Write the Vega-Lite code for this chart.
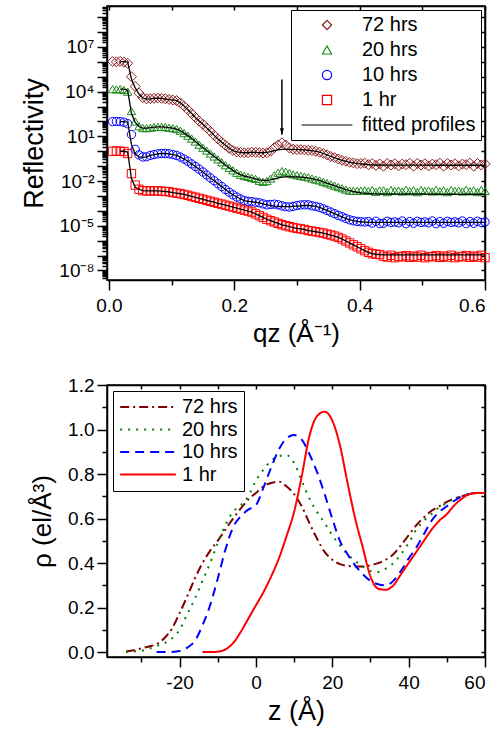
{
  "$schema": "https://vega.github.io/schema/vega-lite/v6.json",
  "padding": {"left": 20, "top": 4, "right": 0, "bottom": 2},
  "spacing": 28,
  "resolve": {"scale": {"color": "independent", "shape": "independent", "strokeDash": "independent", "x": "independent", "y": "independent"}, "legend": {"color": "independent", "shape": "independent", "strokeDash": "independent"}},
  "config": {
    "font": "Liberation Sans",
    "view": {"stroke": "black", "strokeWidth": 1.5},
    "axis": {"domainColor": "black", "domainWidth": 1.5, "tickColor": "black", "tickWidth": 1.5, "labelColor": "black", "titleColor": "black", "labelFontSize": 19, "titleFontSize": 26, "titleFontWeight": "normal", "grid": false, "labelFont": "Liberation Sans", "titleFont": "Liberation Sans"},
    "legend": {"labelFont": "Liberation Sans", "labelFontSize": 20, "labelColor": "black", "strokeColor": "black", "fillColor": "white", "title": null}
  },
  "datasets": {
    "refl": [
      {"q":0.006,"72 hrs":1.05e6,"20 hrs":1.48e4,"10 hrs":97.7,"1 hr":1.0},
      {"q":0.012,"72 hrs":1.0e6,"20 hrs":1.41e4,"10 hrs":100,"1 hr":1.05},
      {"q":0.018,"72 hrs":1.07e6,"f72":1.05e6,"20 hrs":1.48e4,"f20":1.48e4,"10 hrs":97.7,"f10":97.7,"1 hr":1.0,"f1":1.0},
      {"q":0.024,"72 hrs":9.55e5,"f72":1.05e6,"20 hrs":1.32e4,"f20":1.48e4,"10 hrs":89.1,"f10":97.7,"1 hr":0.955,"f1":1.0},
      {"q":0.03,"72 hrs":7.94e5,"f72":9.55e5,"20 hrs":1.0e4,"f20":1.26e4,"10 hrs":70.8,"f10":89.1,"1 hr":0.708,"f1":0.891},
      {"q":0.036,"72 hrs":1.0e5,"f72":7.08e4,"20 hrs":501,"f20":339,"10 hrs":13.2,"f10":2.88,"1 hr":0.0316,"f1":0.0148},
      {"q":0.042,"72 hrs":2.24e4,"f72":1.78e4,"20 hrs":100,"f20":87.1,"10 hrs":1.35,"f10":0.646,"1 hr":5.37e-3,"f1":3.8e-3},
      {"q":0.048,"72 hrs":7.94e3,"f72":6.92e3,"20 hrs":47.9,"f20":45.7,"10 hrs":0.575,"f10":0.427,"1 hr":2.82e-3,"f1":2.82e-3},
      {"q":0.054,"72 hrs":3.98e3,"f72":3.8e3,"20 hrs":36.3,"f20":35.5,"10 hrs":0.417,"f10":0.389,"1 hr":2.29e-3,"f1":2.29e-3},
      {"q":0.06,"72 hrs":3.31e3,"f72":3.16e3,"20 hrs":35.5,"f20":35.5,"10 hrs":0.427,"f10":0.427,"1 hr":2.19e-3,"f1":2.19e-3},
      {"q":0.066,"72 hrs":3.39e3,"f72":3.31e3,"20 hrs":38.0,"f20":38.0,"10 hrs":0.525,"f10":0.525,"1 hr":2.19e-3,"f1":2.19e-3},
      {"q":0.072,"72 hrs":3.55e3,"f72":3.55e3,"20 hrs":41.7,"f20":41.7,"10 hrs":0.603,"f10":0.603,"1 hr":2.19e-3,"f1":2.19e-3},
      {"q":0.078,"72 hrs":3.72e3,"f72":3.63e3,"20 hrs":43.7,"f20":43.7,"10 hrs":0.676,"f10":0.676,"1 hr":2.19e-3,"f1":2.19e-3},
      {"q":0.084,"72 hrs":3.55e3,"f72":3.55e3,"20 hrs":43.7,"f20":43.7,"10 hrs":0.708,"f10":0.708,"1 hr":2.09e-3,"f1":2.09e-3},
      {"q":0.09,"72 hrs":3.31e3,"f72":3.31e3,"20 hrs":41.7,"f20":41.7,"10 hrs":0.708,"f10":0.708,"1 hr":2.0e-3,"f1":2.0e-3},
      {"q":0.096,"72 hrs":3.02e3,"f72":2.95e3,"20 hrs":38.0,"f20":38.0,"10 hrs":0.676,"f10":0.676,"1 hr":1.91e-3,"f1":1.91e-3},
      {"q":0.102,"72 hrs":2.75e3,"f72":2.82e3,"20 hrs":35.5,"f20":35.5,"10 hrs":0.603,"f10":0.603,"1 hr":1.7e-3,"f1":1.7e-3},
      {"q":0.108,"72 hrs":2.51e3,"f72":2.51e3,"20 hrs":30.9,"f20":30.9,"10 hrs":0.525,"f10":0.525,"1 hr":1.55e-3,"f1":1.55e-3},
      {"q":0.114,"72 hrs":1.78e3,"f72":1.78e3,"20 hrs":24.0,"f20":24.0,"10 hrs":0.407,"f10":0.407,"1 hr":1.41e-3,"f1":1.41e-3},
      {"q":0.12,"72 hrs":1.07e3,"f72":1.07e3,"20 hrs":16.6,"f20":16.6,"10 hrs":0.302,"f10":0.302,"1 hr":1.26e-3,"f1":1.26e-3},
      {"q":0.126,"72 hrs":617,"f72":617,"20 hrs":11.2,"f20":11.2,"10 hrs":0.214,"f10":0.214,"1 hr":1.1e-3,"f1":1.1e-3},
      {"q":0.132,"72 hrs":339,"f72":339,"20 hrs":7.08,"f20":7.08,"10 hrs":0.141,"f10":0.141,"1 hr":9.33e-4,"f1":9.33e-4},
      {"q":0.138,"72 hrs":186,"f72":186,"20 hrs":4.57,"f20":4.57,"10 hrs":0.0955,"f10":0.0955,"1 hr":8.13e-4,"f1":8.13e-4},
      {"q":0.144,"72 hrs":107,"f72":107,"20 hrs":2.75,"f20":2.75,"10 hrs":0.0631,"f10":0.0631,"1 hr":6.92e-4,"f1":6.92e-4},
      {"q":0.15,"72 hrs":64.6,"f72":64.6,"20 hrs":1.74,"f20":1.74,"10 hrs":0.0407,"f10":0.0407,"1 hr":6.03e-4,"f1":6.03e-4},
      {"q":0.156,"72 hrs":37.2,"f72":37.2,"20 hrs":1.12,"f20":1.12,"10 hrs":0.0257,"f10":0.0257,"1 hr":5.13e-4,"f1":5.13e-4},
      {"q":0.162,"72 hrs":21.4,"f72":21.4,"20 hrs":0.708,"f20":0.708,"10 hrs":0.0162,"f10":0.0162,"1 hr":4.37e-4,"f1":4.37e-4},
      {"q":0.168,"72 hrs":11.7,"f72":11.7,"20 hrs":0.447,"f20":0.447,"10 hrs":0.0105,"f10":0.0105,"1 hr":3.8e-4,"f1":3.8e-4},
      {"q":0.174,"72 hrs":6.76,"f72":6.76,"20 hrs":0.288,"f20":0.288,"10 hrs":6.61e-3,"f10":6.61e-3,"1 hr":3.24e-4,"f1":3.24e-4},
      {"q":0.18,"72 hrs":4.07,"f72":4.07,"20 hrs":0.182,"f20":0.182,"10 hrs":4.27e-3,"f10":4.27e-3,"1 hr":2.82e-4,"f1":2.82e-4},
      {"q":0.186,"72 hrs":2.51,"f72":2.51,"20 hrs":0.117,"f20":0.117,"10 hrs":2.69e-3,"f10":2.69e-3,"1 hr":2.4e-4,"f1":2.4e-4},
      {"q":0.192,"72 hrs":1.58,"f72":1.58,"20 hrs":0.0776,"f20":0.0776,"10 hrs":1.78e-3,"f10":1.78e-3,"1 hr":2.09e-4,"f1":2.09e-4},
      {"q":0.198,"72 hrs":1.12,"f72":1.12,"20 hrs":0.0525,"f20":0.0525,"10 hrs":1.2e-3,"f10":1.2e-3,"1 hr":1.78e-4,"f1":1.78e-4},
      {"q":0.204,"72 hrs":0.912,"f72":0.912,"20 hrs":0.0363,"f20":0.0363,"10 hrs":8.51e-4,"f10":8.51e-4,"1 hr":1.51e-4,"f1":1.51e-4},
      {"q":0.21,"72 hrs":0.832,"f72":0.832,"20 hrs":0.0269,"f20":0.0269,"10 hrs":6.31e-4,"f10":6.31e-4,"1 hr":1.32e-4,"f1":1.32e-4},
      {"q":0.216,"72 hrs":0.794,"f72":0.794,"20 hrs":0.0219,"f20":0.0219,"10 hrs":4.9e-4,"f10":4.9e-4,"1 hr":1.12e-4,"f1":1.12e-4},
      {"q":0.222,"72 hrs":0.794,"f72":0.794,"20 hrs":0.0191,"f20":0.0191,"10 hrs":4.37e-4,"f10":4.37e-4,"1 hr":9.77e-5,"f1":9.77e-5},
      {"q":0.228,"72 hrs":0.871,"f72":0.871,"20 hrs":0.0162,"f20":0.0162,"10 hrs":4.17e-4,"f10":4.17e-4,"1 hr":8.32e-5,"f1":8.32e-5},
      {"q":0.234,"72 hrs":0.851,"f72":0.851,"20 hrs":0.0141,"f20":0.0141,"10 hrs":3.8e-4,"f10":3.8e-4,"1 hr":6.31e-5,"f1":6.31e-5},
      {"q":0.24,"72 hrs":0.813,"f72":0.813,"20 hrs":0.0105,"f20":0.012,"10 hrs":3.47e-4,"f10":3.47e-4,"1 hr":4.79e-5,"f1":4.79e-5},
      {"q":0.246,"72 hrs":0.759,"f72":0.794,"20 hrs":8.91e-3,"f20":0.011,"10 hrs":2.95e-4,"f10":2.95e-4,"1 hr":3.63e-5,"f1":3.63e-5},
      {"q":0.252,"72 hrs":0.794,"f72":0.832,"20 hrs":0.01,"f20":0.011,"10 hrs":2.57e-4,"f10":2.57e-4,"1 hr":2.75e-5,"f1":2.75e-5},
      {"q":0.258,"72 hrs":1.0,"f72":0.955,"20 hrs":0.0148,"f20":0.012,"10 hrs":2.69e-4,"f10":2.29e-4,"1 hr":2.19e-5,"f1":2.19e-5},
      {"q":0.264,"72 hrs":1.74,"f72":1.12,"20 hrs":0.0245,"f20":0.0141,"10 hrs":2.82e-4,"f10":2.09e-4,"1 hr":1.78e-5,"f1":1.78e-5},
      {"q":0.27,"72 hrs":2.63,"f72":1.26,"20 hrs":0.0363,"f20":0.0162,"10 hrs":2.57e-4,"f10":2.0e-4,"1 hr":1.45e-5,"f1":1.45e-5},
      {"q":0.276,"72 hrs":3.72,"f72":1.35,"20 hrs":0.0468,"f20":0.0182,"10 hrs":2.19e-4,"f10":1.91e-4,"1 hr":1.17e-5,"f1":1.17e-5},
      {"q":0.282,"72 hrs":2.63,"f72":1.35,"20 hrs":0.0427,"f20":0.0191,"10 hrs":1.91e-4,"f10":1.91e-4,"1 hr":1.02e-5,"f1":1.02e-5},
      {"q":0.288,"72 hrs":1.66,"f72":1.35,"20 hrs":0.0347,"f20":0.0191,"10 hrs":1.82e-4,"f10":1.91e-4,"1 hr":8.71e-6,"f1":8.71e-6},
      {"q":0.294,"72 hrs":1.38,"f72":1.32,"20 hrs":0.0282,"f20":0.0191,"10 hrs":2.0e-4,"f10":2.0e-4,"1 hr":7.59e-6,"f1":7.59e-6},
      {"q":0.3,"72 hrs":1.29,"f72":1.29,"20 hrs":0.0245,"f20":0.0191,"10 hrs":2.29e-4,"f10":2.09e-4,"1 hr":6.76e-6,"f1":6.76e-6},
      {"q":0.306,"72 hrs":1.29,"f72":1.29,"20 hrs":0.0219,"f20":0.0182,"10 hrs":2.51e-4,"f10":2.19e-4,"1 hr":6.17e-6,"f1":6.17e-6},
      {"q":0.312,"72 hrs":1.23,"f72":1.23,"20 hrs":0.02,"f20":0.0174,"10 hrs":2.57e-4,"f10":2.29e-4,"1 hr":5.62e-6,"f1":5.62e-6},
      {"q":0.318,"72 hrs":1.17,"f72":1.17,"20 hrs":0.0178,"f20":0.0162,"10 hrs":2.57e-4,"f10":2.29e-4,"1 hr":4.79e-6,"f1":4.79e-6},
      {"q":0.324,"72 hrs":1.12,"f72":1.12,"20 hrs":0.0148,"f20":0.0148,"10 hrs":2.19e-4,"f10":2.19e-4,"1 hr":4.37e-6,"f1":4.37e-6},
      {"q":0.33,"72 hrs":1.0,"f72":1.0,"20 hrs":0.0126,"f20":0.0126,"10 hrs":2.0e-4,"f10":2.0e-4,"1 hr":3.98e-6,"f1":3.98e-6},
      {"q":0.336,"72 hrs":0.871,"f72":0.871,"20 hrs":0.011,"f20":0.011,"10 hrs":1.7e-4,"f10":1.7e-4,"1 hr":3.55e-6,"f1":3.55e-6},
      {"q":0.342,"72 hrs":0.708,"f72":0.708,"20 hrs":8.91e-3,"f20":8.91e-3,"10 hrs":1.38e-4,"f10":1.38e-4,"1 hr":3.24e-6,"f1":3.24e-6},
      {"q":0.348,"72 hrs":0.575,"f72":0.575,"20 hrs":7.24e-3,"f20":7.24e-3,"10 hrs":1.07e-4,"f10":1.07e-4,"1 hr":2.75e-6,"f1":2.75e-6},
      {"q":0.354,"72 hrs":0.447,"f72":0.447,"20 hrs":6.03e-3,"f20":6.03e-3,"10 hrs":8.32e-5,"f10":8.32e-5,"1 hr":2.4e-6,"f1":2.4e-6},
      {"q":0.36,"72 hrs":0.372,"f72":0.372,"20 hrs":4.9e-3,"f20":4.9e-3,"10 hrs":6.46e-5,"f10":6.46e-5,"1 hr":2.04e-6,"f1":2.04e-6},
      {"q":0.366,"72 hrs":0.302,"f72":0.302,"20 hrs":3.98e-3,"f20":3.98e-3,"10 hrs":5.01e-5,"f10":5.01e-5,"1 hr":1.66e-6,"f1":1.66e-6},
      {"q":0.372,"72 hrs":0.245,"f72":0.245,"20 hrs":3.31e-3,"f20":3.31e-3,"10 hrs":3.98e-5,"f10":3.98e-5,"1 hr":1.29e-6,"f1":1.29e-6},
      {"q":0.378,"72 hrs":0.214,"f72":0.214,"20 hrs":2.69e-3,"f20":2.69e-3,"10 hrs":3.09e-5,"f10":3.09e-5,"1 hr":9.55e-7,"f1":9.55e-7},
      {"q":0.384,"72 hrs":0.182,"f72":0.182,"20 hrs":2.29e-3,"f20":2.29e-3,"10 hrs":2.51e-5,"f10":2.51e-5,"1 hr":7.08e-7,"f1":7.08e-7},
      {"q":0.39,"72 hrs":0.166,"f72":0.166,"20 hrs":2.24e-3,"f20":2.0e-3,"10 hrs":2.19e-5,"f10":2.19e-5,"1 hr":5.25e-7,"f1":5.25e-7},
      {"q":0.396,"72 hrs":0.148,"f72":0.148,"20 hrs":2.19e-3,"f20":1.78e-3,"10 hrs":1.95e-5,"f10":1.95e-5,"1 hr":3.89e-7,"f1":3.89e-7},
      {"q":0.402,"72 hrs":0.151,"f72":0.141,"20 hrs":2.29e-3,"f20":1.62e-3,"10 hrs":1.86e-5,"f10":1.86e-5,"1 hr":2.88e-7,"f1":2.88e-7},
      {"q":0.408,"72 hrs":0.158,"f72":0.135,"20 hrs":2.4e-3,"f20":1.55e-3,"10 hrs":1.78e-5,"f10":1.78e-5,"1 hr":2.14e-7,"f1":2.14e-7},
      {"q":0.414,"72 hrs":0.126,"f72":0.129,"20 hrs":2.19e-3,"f20":1.48e-3,"10 hrs":1.91e-5,"f10":1.7e-5,"1 hr":1.66e-7,"f1":1.66e-7},
      {"q":0.42,"72 hrs":0.151,"f72":0.123,"20 hrs":2.51e-3,"f20":1.41e-3,"10 hrs":1.51e-5,"f10":1.7e-5,"1 hr":1.35e-7,"f1":1.35e-7},
      {"q":0.426,"72 hrs":0.112,"f72":0.12,"20 hrs":1.91e-3,"f20":1.38e-3,"10 hrs":2.0e-5,"f10":1.7e-5,"1 hr":1.23e-7,"f1":1.23e-7},
      {"q":0.432,"72 hrs":0.141,"f72":0.12,"20 hrs":2.4e-3,"f20":1.35e-3,"10 hrs":1.41e-5,"f10":1.7e-5,"1 hr":1.17e-7,"f1":1.17e-7},
      {"q":0.438,"72 hrs":0.1,"f72":0.117,"20 hrs":2.4e-3,"f20":1.32e-3,"10 hrs":1.48e-5,"f10":1.7e-5,"1 hr":9.12e-8,"f1":1.12e-7},
      {"q":0.444,"72 hrs":0.151,"f72":0.117,"20 hrs":1.82e-3,"f20":1.32e-3,"10 hrs":2.0e-5,"f10":1.7e-5,"1 hr":7.94e-8,"f1":1.12e-7},
      {"q":0.45,"72 hrs":0.12,"f72":0.117,"20 hrs":2.51e-3,"f20":1.32e-3,"10 hrs":1.66e-5,"f10":1.7e-5,"1 hr":1.05e-7,"f1":1.12e-7},
      {"q":0.456,"72 hrs":0.145,"f72":0.117,"20 hrs":2.19e-3,"f20":1.32e-3,"10 hrs":1.82e-5,"f10":1.7e-5,"1 hr":7.24e-8,"f1":1.12e-7},
      {"q":0.462,"72 hrs":0.105,"f72":0.117,"20 hrs":2.29e-3,"f20":1.32e-3,"10 hrs":1.58e-5,"f10":1.7e-5,"1 hr":8.71e-8,"f1":1.12e-7},
      {"q":0.468,"72 hrs":0.138,"f72":0.117,"20 hrs":2.0e-3,"f20":1.32e-3,"10 hrs":2.09e-5,"f10":1.7e-5,"1 hr":8.32e-8,"f1":1.12e-7},
      {"q":0.474,"72 hrs":0.126,"f72":0.117,"20 hrs":2.63e-3,"f20":1.32e-3,"10 hrs":1.38e-5,"f10":1.7e-5,"1 hr":1.0e-7,"f1":1.12e-7},
      {"q":0.48,"72 hrs":0.158,"f72":0.117,"20 hrs":2.09e-3,"f20":1.32e-3,"10 hrs":1.91e-5,"f10":1.7e-5,"1 hr":7.59e-8,"f1":1.12e-7},
      {"q":0.486,"72 hrs":0.1,"f72":0.117,"20 hrs":2.4e-3,"f20":1.32e-3,"10 hrs":1.48e-5,"f10":1.7e-5,"1 hr":9.12e-8,"f1":1.12e-7},
      {"q":0.492,"72 hrs":0.151,"f72":0.117,"20 hrs":1.82e-3,"f20":1.32e-3,"10 hrs":2.0e-5,"f10":1.7e-5,"1 hr":7.94e-8,"f1":1.12e-7},
      {"q":0.498,"72 hrs":0.12,"f72":0.117,"20 hrs":2.51e-3,"f20":1.32e-3,"10 hrs":1.66e-5,"f10":1.7e-5,"1 hr":1.05e-7,"f1":1.12e-7},
      {"q":0.504,"72 hrs":0.145,"f72":0.117,"20 hrs":2.19e-3,"f20":1.32e-3,"10 hrs":1.82e-5,"f10":1.7e-5,"1 hr":7.24e-8,"f1":1.12e-7},
      {"q":0.51,"72 hrs":0.105,"f72":0.117,"20 hrs":2.29e-3,"f20":1.32e-3,"10 hrs":1.58e-5,"f10":1.7e-5,"1 hr":8.71e-8,"f1":1.12e-7},
      {"q":0.516,"72 hrs":0.138,"f72":0.117,"20 hrs":2.0e-3,"f20":1.32e-3,"10 hrs":2.09e-5,"f10":1.7e-5,"1 hr":8.32e-8,"f1":1.12e-7},
      {"q":0.522,"72 hrs":0.126,"f72":0.115,"20 hrs":2.63e-3,"f20":1.29e-3,"10 hrs":1.38e-5,"f10":1.7e-5,"1 hr":1.0e-7,"f1":1.12e-7},
      {"q":0.528,"72 hrs":0.158,"f72":0.115,"20 hrs":2.09e-3,"f20":1.29e-3,"10 hrs":1.91e-5,"f10":1.7e-5,"1 hr":7.59e-8,"f1":1.12e-7},
      {"q":0.534,"72 hrs":0.1,"f72":0.115,"20 hrs":2.4e-3,"f20":1.29e-3,"10 hrs":1.48e-5,"f10":1.7e-5,"1 hr":9.12e-8,"f1":1.12e-7},
      {"q":0.54,"72 hrs":0.151,"f72":0.115,"20 hrs":1.82e-3,"f20":1.29e-3,"10 hrs":2.0e-5,"f10":1.7e-5,"1 hr":7.94e-8,"f1":1.12e-7},
      {"q":0.546,"72 hrs":0.12,"f72":0.115,"20 hrs":2.51e-3,"f20":1.29e-3,"10 hrs":1.66e-5,"f10":1.7e-5,"1 hr":1.05e-7,"f1":1.12e-7},
      {"q":0.552,"72 hrs":0.145,"f72":0.115,"20 hrs":2.19e-3,"f20":1.29e-3,"10 hrs":1.82e-5,"f10":1.7e-5,"1 hr":7.24e-8,"f1":1.12e-7},
      {"q":0.558,"72 hrs":0.105,"f72":0.115,"20 hrs":2.29e-3,"f20":1.29e-3,"10 hrs":1.58e-5,"f10":1.7e-5,"1 hr":8.71e-8,"f1":1.12e-7},
      {"q":0.564,"72 hrs":0.138,"f72":0.115,"20 hrs":2.0e-3,"f20":1.29e-3,"10 hrs":2.09e-5,"f10":1.7e-5,"1 hr":8.32e-8,"f1":1.12e-7},
      {"q":0.57,"72 hrs":0.126,"f72":0.115,"20 hrs":2.63e-3,"f20":1.29e-3,"10 hrs":1.38e-5,"f10":1.7e-5,"1 hr":1.0e-7,"f1":1.12e-7},
      {"q":0.576,"72 hrs":0.158,"f72":0.115,"20 hrs":2.09e-3,"f20":1.29e-3,"10 hrs":1.91e-5,"f10":1.7e-5,"1 hr":7.59e-8,"f1":1.12e-7},
      {"q":0.582,"72 hrs":0.1,"f72":0.115,"20 hrs":2.4e-3,"f20":1.29e-3,"10 hrs":1.48e-5,"f10":1.7e-5,"1 hr":9.12e-8,"f1":1.12e-7},
      {"q":0.588,"72 hrs":0.151,"f72":0.115,"20 hrs":1.82e-3,"f20":1.29e-3,"10 hrs":2.0e-5,"f10":1.7e-5,"1 hr":7.94e-8,"f1":1.12e-7},
      {"q":0.594,"72 hrs":0.12,"f72":0.115,"20 hrs":2.51e-3,"f20":1.29e-3,"10 hrs":1.66e-5,"f10":1.7e-5,"1 hr":1.05e-7,"f1":1.12e-7},
      {"q":0.6,"72 hrs":0.145,"f72":0.115,"20 hrs":2.19e-3,"f20":1.29e-3,"10 hrs":1.82e-5,"f10":1.7e-5,"1 hr":7.24e-8,"f1":1.12e-7}
    ],
    "dens": [
      {"z":-34,"72 hrs":0.003,"20 hrs":0.0},
      {"z":-32,"72 hrs":0.008,"20 hrs":0.003},
      {"z":-30,"72 hrs":0.017,"20 hrs":0.006},
      {"z":-28,"72 hrs":0.025,"20 hrs":0.015},
      {"z":-26,"72 hrs":0.036,"20 hrs":0.027,"10 hrs":0.0},
      {"z":-24,"72 hrs":0.062,"20 hrs":0.04,"10 hrs":0.0},
      {"z":-22,"72 hrs":0.105,"20 hrs":0.062,"10 hrs":0.001},
      {"z":-20,"72 hrs":0.175,"20 hrs":0.1,"10 hrs":0.005},
      {"z":-18,"72 hrs":0.25,"20 hrs":0.17,"10 hrs":0.02},
      {"z":-16,"72 hrs":0.33,"20 hrs":0.24,"10 hrs":0.05},
      {"z":-14,"72 hrs":0.4,"20 hrs":0.32,"10 hrs":0.12,"1 hr":0.0},
      {"z":-12,"72 hrs":0.455,"20 hrs":0.4,"10 hrs":0.21,"1 hr":0.0},
      {"z":-10,"72 hrs":0.5,"20 hrs":0.49,"10 hrs":0.33,"1 hr":0.002},
      {"z":-8,"72 hrs":0.55,"20 hrs":0.57,"10 hrs":0.46,"1 hr":0.012},
      {"z":-6,"72 hrs":0.6,"20 hrs":0.63,"10 hrs":0.56,"1 hr":0.04},
      {"z":-4,"72 hrs":0.645,"20 hrs":0.66,"10 hrs":0.61,"1 hr":0.09},
      {"z":-2,"72 hrs":0.685,"20 hrs":0.7,"10 hrs":0.64,"1 hr":0.15},
      {"z":0,"72 hrs":0.715,"20 hrs":0.77,"10 hrs":0.66,"1 hr":0.21},
      {"z":2,"72 hrs":0.745,"20 hrs":0.82,"10 hrs":0.74,"1 hr":0.27},
      {"z":4,"72 hrs":0.76,"20 hrs":0.86,"10 hrs":0.83,"1 hr":0.34},
      {"z":6,"72 hrs":0.766,"20 hrs":0.88,"10 hrs":0.91,"1 hr":0.42},
      {"z":8,"72 hrs":0.745,"20 hrs":0.885,"10 hrs":0.96,"1 hr":0.52},
      {"z":10,"72 hrs":0.71,"20 hrs":0.85,"10 hrs":0.975,"1 hr":0.63},
      {"z":12,"72 hrs":0.655,"20 hrs":0.77,"10 hrs":0.955,"1 hr":0.79},
      {"z":14,"72 hrs":0.58,"20 hrs":0.69,"10 hrs":0.89,"1 hr":0.97},
      {"z":16,"72 hrs":0.51,"20 hrs":0.63,"10 hrs":0.81,"1 hr":1.06},
      {"z":18,"72 hrs":0.45,"20 hrs":0.58,"10 hrs":0.71,"1 hr":1.08},
      {"z":20,"72 hrs":0.415,"20 hrs":0.525,"10 hrs":0.6,"1 hr":1.04},
      {"z":22,"72 hrs":0.395,"20 hrs":0.48,"10 hrs":0.5,"1 hr":0.93},
      {"z":24,"72 hrs":0.387,"20 hrs":0.44,"10 hrs":0.44,"1 hr":0.76},
      {"z":26,"72 hrs":0.385,"20 hrs":0.41,"10 hrs":0.39,"1 hr":0.6},
      {"z":28,"72 hrs":0.385,"20 hrs":0.385,"10 hrs":0.35,"1 hr":0.47},
      {"z":30,"72 hrs":0.39,"20 hrs":0.365,"10 hrs":0.32,"1 hr":0.34},
      {"z":32,"72 hrs":0.4,"20 hrs":0.36,"10 hrs":0.305,"1 hr":0.285},
      {"z":34,"72 hrs":0.415,"20 hrs":0.375,"10 hrs":0.3,"1 hr":0.28},
      {"z":36,"72 hrs":0.44,"20 hrs":0.4,"10 hrs":0.32,"1 hr":0.3},
      {"z":38,"72 hrs":0.48,"20 hrs":0.44,"10 hrs":0.365,"1 hr":0.35},
      {"z":40,"72 hrs":0.525,"20 hrs":0.49,"10 hrs":0.42,"1 hr":0.4},
      {"z":42,"72 hrs":0.57,"20 hrs":0.55,"10 hrs":0.47,"1 hr":0.45},
      {"z":44,"72 hrs":0.605,"20 hrs":0.59,"10 hrs":0.53,"1 hr":0.5},
      {"z":46,"72 hrs":0.635,"20 hrs":0.62,"10 hrs":0.59,"1 hr":0.55},
      {"z":48,"72 hrs":0.655,"20 hrs":0.65,"10 hrs":0.63,"1 hr":0.59},
      {"z":50,"72 hrs":0.675,"20 hrs":0.67,"10 hrs":0.655,"1 hr":0.62},
      {"z":52,"72 hrs":0.69,"20 hrs":0.69,"10 hrs":0.68,"1 hr":0.66},
      {"z":54,"72 hrs":0.7,"20 hrs":0.7,"10 hrs":0.7,"1 hr":0.69},
      {"z":56,"72 hrs":0.71,"20 hrs":0.71,"10 hrs":0.71,"1 hr":0.71},
      {"z":58,"72 hrs":0.715,"20 hrs":0.715,"10 hrs":0.715,"1 hr":0.715},
      {"z":60,"72 hrs":0.715,"20 hrs":0.715,"10 hrs":0.715,"1 hr":0.715}
    ],
    "arrow": [{"q":0.276,"top":6.6e4,"tip":13}]
  },
  "vconcat": [
    {
      "width": 378,
      "height": 274,
      "layer": [
        {
          "data": {"name": "refl"},
          "transform": [{"fold": ["72 hrs","20 hrs","10 hrs","1 hr"], "as": ["series","R"]}, {"filter": "isValid(datum.R)"}],
          "mark": {"type": "point", "filled": false, "strokeWidth": 1, "opacity": 1},
          "encoding": {
            "x": {"field": "q", "type": "quantitative", "scale": {"domain": [-0.003, 0.6], "nice": false, "zero": false},
              "axis": {"orient": "bottom", "values": [0,0.1,0.2,0.3,0.4,0.5,0.6], "labelExpr": "round(datum.value*10) % 2 == 0 ? format(datum.value, '.1f') : ''", "tickSize": {"condition": {"test": "round(datum.value*10) % 2 == 0", "value": 10}, "value": 5}, "labelPadding": 6, "title": "qz (Å⁻¹)", "titlePadding": 5}},
            "y": {"field": "R", "type": "quantitative", "scale": {"type": "log", "domain": [2.3e-9, 5.6e9], "nice": false},
              "axis": {"orient": "left", "values": [3e-9,4e-9,5e-9,6e-9,7e-9,8e-9,9e-9,1e-8,2e-8,3e-8,4e-8,5e-8,6e-8,7e-8,8e-8,9e-8,1e-7,2e-7,3e-7,4e-7,5e-7,6e-7,7e-7,8e-7,9e-7,1e-6,2e-6,3e-6,4e-6,5e-6,6e-6,7e-6,8e-6,9e-6,1e-5,2e-5,3e-5,4e-5,5e-5,6e-5,7e-5,8e-5,9e-5,1e-4,2e-4,3e-4,4e-4,5e-4,6e-4,7e-4,8e-4,9e-4,1e-3,2e-3,3e-3,4e-3,5e-3,6e-3,7e-3,8e-3,9e-3,1e-2,2e-2,3e-2,4e-2,5e-2,6e-2,7e-2,8e-2,9e-2,0.1,0.2,0.3,0.4,0.5,0.6,0.7,0.8,0.9,1,2,3,4,5,6,7,8,9,10,20,30,40,50,60,70,80,90,100,200,300,400,500,600,700,800,900,1e3,2e3,3e3,4e3,5e3,6e3,7e3,8e3,9e3,1e4,2e4,3e4,4e4,5e4,6e4,7e4,8e4,9e4,1e5,2e5,3e5,4e5,5e5,6e5,7e5,8e5,9e5,1e6,2e6,3e6,4e6,5e6,6e6,7e6,8e6,9e6,1e7,2e7,3e7,4e7,5e7,6e7,7e7,8e7,9e7,1e8,2e8,3e8,4e8,5e8,6e8,7e8,8e8,9e8,1e9,2e9,3e9,4e9,5e9],
                "labelExpr": "datum.value == 1e7 ? '10⁷' : datum.value == 1e4 ? '10⁴' : datum.value == 10 ? '10¹' : datum.value == 0.01 ? '10⁻²' : datum.value == 0.00001 ? '10⁻⁵' : datum.value == 1e-8 ? '10⁻⁸' : ''",
                "labelFontSize": {"condition": {"test": "indexof([1e7, 1e4, 10, 0.01, 0.00001, 1e-8], datum.value) >= 0", "value": 19}, "value": 0.1},
                "tickSize": {"condition": {"test": "abs(log(datum.value)/LN10 - round(log(datum.value)/LN10)) < 0.01", "value": 10}, "value": 5},
                "labelPadding": 3, "labelOverlap": false, "labelBound": false, "title": "Reflectivity", "titleFontSize": 27, "titlePadding": 10}},
            "color": {"field": "series", "type": "nominal",
              "scale": {"domain": ["72 hrs","20 hrs","10 hrs","1 hr","fitted profiles"], "range": ["#8b1c1c","#1f8a1f","#0000ff","#ff0000","#000000"]},
              "legend": {"orient": "top-right", "offset": 4, "padding": 5, "symbolSize": 85, "symbolOffset": 21, "clipHeight": 20, "rowPadding": 5, "labelOffset": 25, "symbolStrokeWidth": 1.2, "strokeColor": "black", "title": null, "labelFontSize": 20}},
            "shape": {"field": "series", "type": "nominal",
              "scale": {"domain": ["72 hrs","20 hrs","10 hrs","1 hr","fitted profiles"], "range": ["diamond","triangle-up","circle","square","M-5.5,0L5.5,0"]}},
            "size": {"condition": {"test": "datum.series == '72 hrs'", "value": 100}, "value": 70}
          }
        },
        {
          "data": {"name": "refl"},
          "transform": [{"fold": ["f72","f20","f10","f1"], "as": ["curve","F"]}, {"filter": "isValid(datum.F)"}],
          "mark": {"type": "line", "color": "black", "strokeWidth": 1.3},
          "encoding": {
            "x": {"field": "q", "type": "quantitative", "scale": {"domain": [-0.003, 0.6], "nice": false, "zero": false},
              "axis": {"orient": "top", "values": [0,0.1,0.2,0.3,0.4,0.5,0.6], "labels": false, "tickSize": -4, "title": null}},
            "y": {"field": "F", "type": "quantitative", "scale": {"type": "log", "domain": [2.3e-9, 5.6e9], "nice": false},
              "axis": {"orient": "right", "values": [1e-8,1e-7,1e-6,1e-5,1e-4,1e-3,1e-2,0.1,1,10,100,1e3,1e4,1e5,1e6,1e7,1e8,1e9], "labels": false, "tickSize": -4, "title": null}},
            "detail": {"field": "curve"}
          }
        },
        {
          "data": {"name": "arrow"},
          "mark": {"type": "rule", "color": "black", "strokeWidth": 1.5},
          "encoding": {
            "x": {"field": "q", "type": "quantitative", "axis": null},
            "y": {"field": "top", "type": "quantitative", "axis": null},
            "y2": {"field": "tip"}
          }
        },
        {
          "data": {"name": "arrow"},
          "mark": {"type": "point", "filled": true, "color": "black", "opacity": 1, "shape": "M0,0L-0.6,-2L0.6,-2Z", "size": 42},
          "encoding": {
            "x": {"field": "q", "type": "quantitative", "axis": null},
            "y": {"field": "tip", "type": "quantitative", "axis": null}
          }
        }
      ],
      "resolve": {"axis": {"x": "independent", "y": "independent"}}
    },
    {
      "width": 378,
      "height": 272,
      "layer": [
        {
          "data": {"name": "dens"},
          "transform": [{"fold": ["72 hrs","20 hrs","10 hrs","1 hr"], "as": ["series","rho"]}, {"filter": "isValid(datum.rho)"}],
          "mark": {"type": "line", "strokeWidth": 2, "interpolate": "monotone"},
          "encoding": {
            "x": {"field": "z", "type": "quantitative", "scale": {"domain": [-39, 60], "nice": false, "zero": false},
              "axis": {"orient": "bottom", "values": [-30,-20,-10,0,10,20,30,40,50,60], "labelExpr": "datum.value % 20 == 0 ? '' + datum.value : ''", "tickSize": {"condition": {"test": "datum.value % 20 == 0", "value": 10}, "value": 5}, "labelPadding": 6, "title": "z (Å)", "titleFontSize": 27, "titlePadding": 6}},
            "y": {"field": "rho", "type": "quantitative", "scale": {"domain": [-0.022, 1.2], "nice": false, "zero": false},
              "axis": {"orient": "left", "values": [0,0.1,0.2,0.3,0.4,0.5,0.6,0.7,0.8,0.9,1.0,1.1,1.2], "labelExpr": "round(datum.value*10) % 2 == 0 ? format(datum.value, '.1f') : ''", "tickSize": {"condition": {"test": "round(datum.value*10) % 2 == 0", "value": 10}, "value": 5}, "labelPadding": 3, "labelBound": false, "labelOverlap": false, "title": "ρ (el/Å³)", "titlePadding": 12}},
            "color": {"field": "series", "type": "nominal",
              "scale": {"domain": ["72 hrs","20 hrs","10 hrs","1 hr"], "range": ["#800000","#008000","#0000ff","#ff0000"]},
              "legend": {"orient": "top-left", "offset": 6, "padding": 6, "symbolSize": 3100, "symbolType": "stroke", "clipHeight": 20, "rowPadding": 2.5, "labelOffset": 5, "symbolStrokeWidth": 2, "strokeColor": "black", "title": null, "labelFontSize": 20}},
            "strokeDash": {"field": "series", "type": "nominal",
              "scale": {"domain": ["72 hrs","20 hrs","10 hrs","1 hr"], "range": [[9,4,2,4],[2,6],[9,6],[1,0]]}}
          }
        },
        {
          "data": {"name": "dens"},
          "transform": [{"fold": ["72 hrs","20 hrs","10 hrs","1 hr"], "as": ["series","rho"]}, {"filter": "isValid(datum.rho)"}],
          "mark": {"type": "line", "strokeOpacity": 0, "opacity": 0},
          "encoding": {
            "x": {"field": "z", "type": "quantitative", "scale": {"domain": [-39, 60], "nice": false, "zero": false},
              "axis": {"orient": "top", "values": [-30,-20,-10,0,10,20,30,40,50,60], "labels": false, "tickSize": -4, "title": null}},
            "y": {"field": "rho", "type": "quantitative", "scale": {"domain": [-0.022, 1.2], "nice": false, "zero": false},
              "axis": {"orient": "right", "values": [0,0.1,0.2,0.3,0.4,0.5,0.6,0.7,0.8,0.9,1.0,1.1,1.2], "labels": false, "tickSize": -4, "title": null}},
            "detail": {"field": "series"}
          }
        }
      ],
      "resolve": {"axis": {"x": "independent", "y": "independent"}}
    }
  ]
}
